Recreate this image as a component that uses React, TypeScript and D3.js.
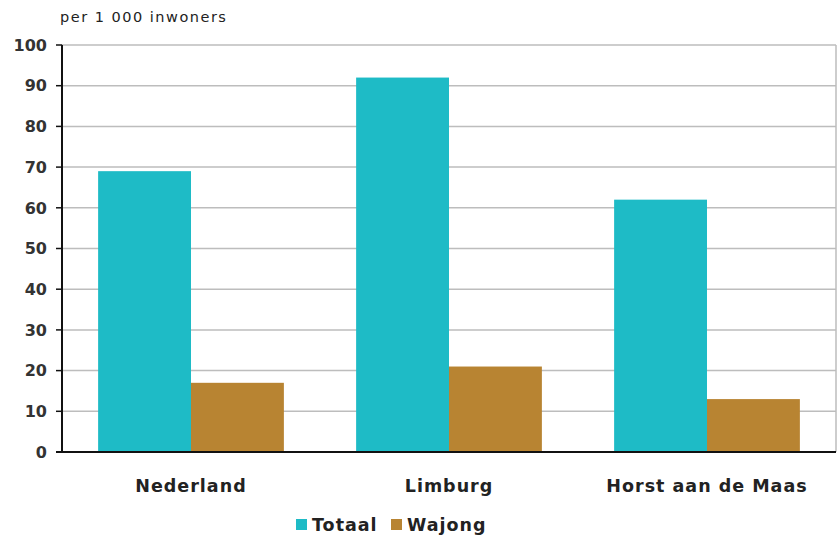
import React from "react";
import * as d3 from "d3";

const categories = ["Nederland", "Limburg", "Horst aan de Maas"];
const seriesNames = ["Totaal", "Wajong"];
const totaal = [69, 92, 62];
const wajong = [17, 21, 13];
const yTicks = [0, 10, 20, 30, 40, 50, 60, 70, 80, 90, 100];
const colors = ["#1EBBC6", "#B88432"];

export default function App() {
  const W = 837, H = 538;
  const left = 62, right = 836, top = 45, bottom = 452;
  const x0 = d3.scaleBand().domain(categories).range([left, right]).paddingInner(0.28).paddingOuter(0.14);
  const x1 = d3.scaleBand().domain(seriesNames).range([0, x0.bandwidth()]);
  const y = d3.scaleLinear().domain([0, 100]).range([bottom, top]);
  const values = [totaal, wajong];
  const font = "'DejaVu Sans', Verdana, sans-serif";
  return (
    <svg width={W} height={H} style={{ position: "absolute", left: 0, top: 0, background: "#fff" }}>
      <rect x={0} y={0} width={W} height={H} fill="#fff" />
      <text x={60} y={22} fontFamily={font} fontSize={14.5} letterSpacing={1.5} fill="#222">per 1 000 inwoners</text>
      {yTicks.map((t) => (
        <g key={t}>
          {t > 0 && <line x1={left} x2={right} y1={y(t)} y2={y(t)} stroke="#bdbdbd" strokeWidth={1.5} />}
          <line x1={left - 6} x2={left} y1={y(t)} y2={y(t)} stroke="#111" strokeWidth={1.5} />
          <text x={left - 15} y={y(t)} dy="0.36em" textAnchor="end" fontFamily={font} fontSize={16} fontWeight={600} fill="#333">{t}</text>
        </g>
      ))}
      <line x1={right} x2={right} y1={top} y2={bottom} stroke="#bdbdbd" strokeWidth={1.5} />
      {categories.map((c, i) => (
        <g key={c}>
          {seriesNames.map((s, j) => (
            <rect key={s} x={(x0(c) as number) + (x1(s) as number)} width={x1.bandwidth()} y={y(values[j][i])} height={bottom - y(values[j][i])} fill={colors[j]} />
          ))}
          <text x={(x0(c) as number) + x0.bandwidth() / 2} y={492} textAnchor="middle" fontFamily={font} fontSize={17.5} fontWeight={600} letterSpacing={1} fill="#222">{c}</text>
        </g>
      ))}
      <line x1={left} x2={left} y1={top} y2={bottom} stroke="#111" strokeWidth={2} />
      <line x1={left - 6} x2={right} y1={bottom} y2={bottom} stroke="#111" strokeWidth={2} />
      {seriesNames.map((s, j) => {
        const lx = [296, 391][j];
        return (
          <g key={s}>
            <rect x={lx} y={519} width={11} height={11} fill={colors[j]} />
            <text x={lx + 16} y={531} fontFamily={font} fontSize={17.5} fontWeight={600} letterSpacing={1} fill="#222">{s}</text>
          </g>
        );
      })}
    </svg>
  );
}
